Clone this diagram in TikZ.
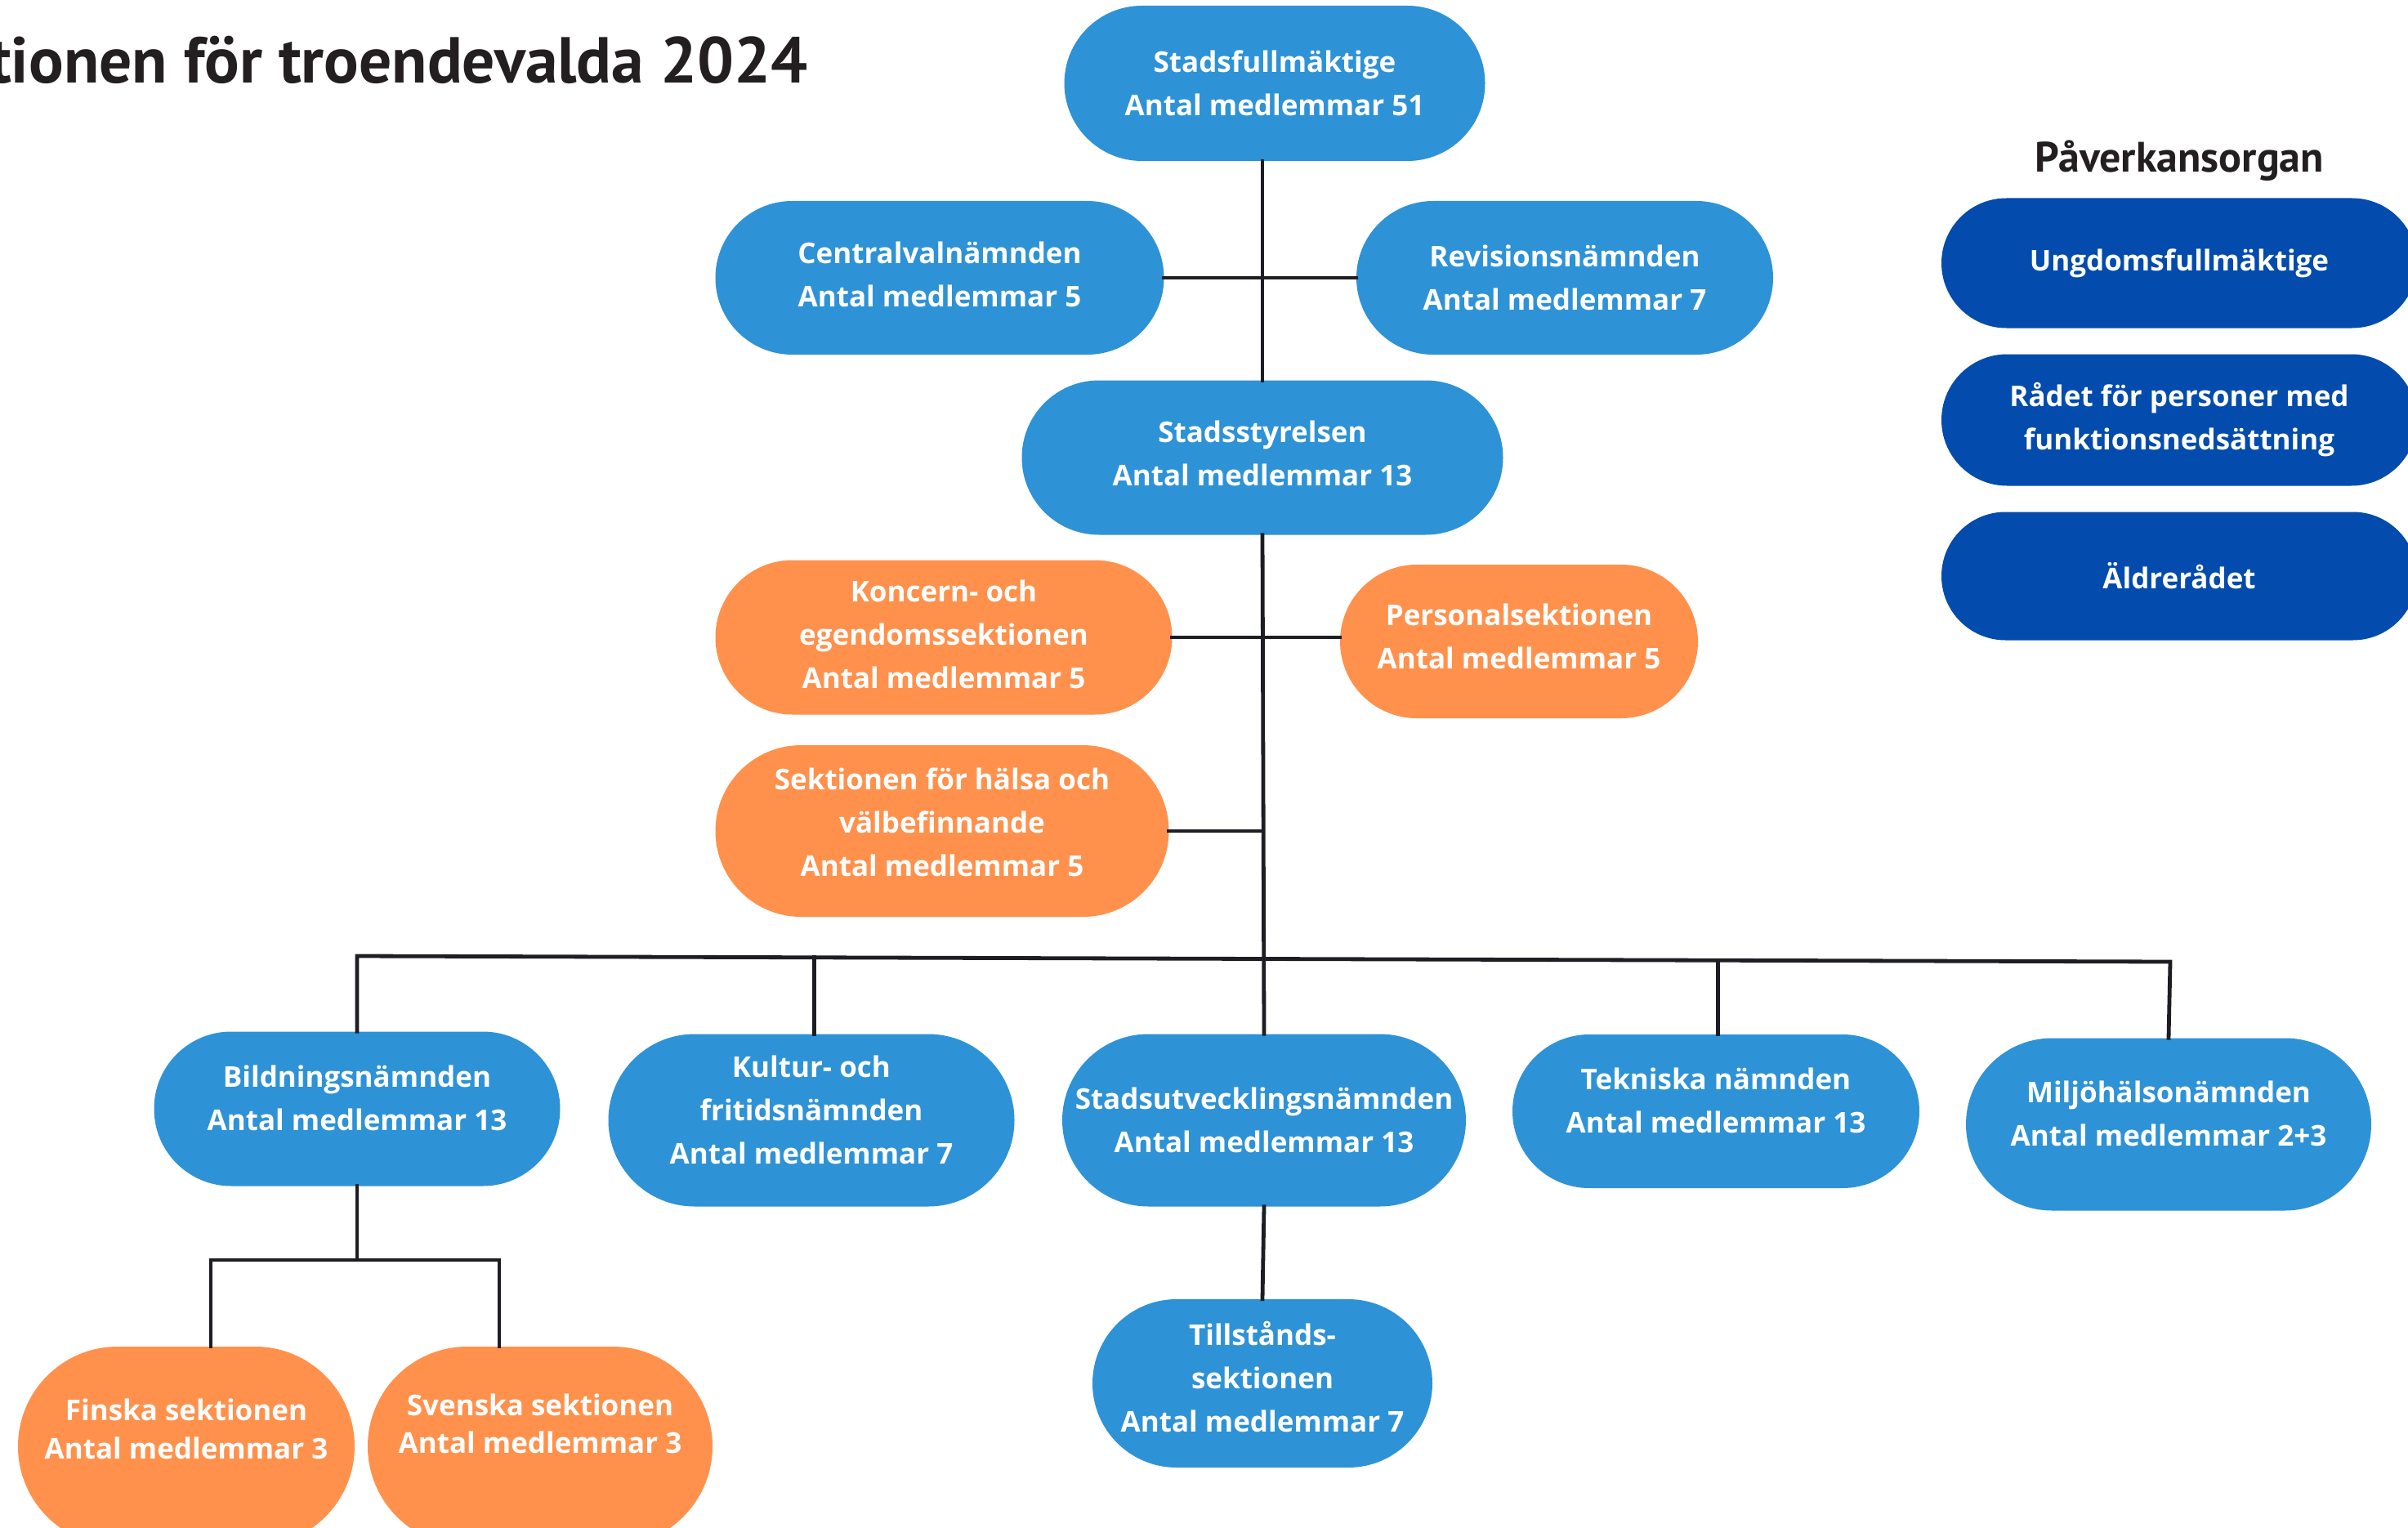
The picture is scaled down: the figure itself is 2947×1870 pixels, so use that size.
\documentclass[tikz,border=0pt]{standalone}
\usepackage{fontspec}
\setmainfont{Open Sans}
\newfontfamily\titlefont{PT Sans}
\usetikzlibrary{shapes.misc,calc}
\definecolor{midblue}{HTML}{2E92D6}
\definecolor{darkblue}{HTML}{034BAC}
\definecolor{orangebox}{HTML}{FF914D}
\definecolor{linecol}{HTML}{1D1D24}
\definecolor{titlecol}{HTML}{231F20}
\tikzset{
  orgbox/.style={rounded rectangle, inner sep=0pt, text=white, align=center,
    font=\bfseries\fontsize{35}{53}\selectfont},
  bluebox/.style={orgbox, fill=midblue},
  darkbox/.style={orgbox, fill=darkblue},
  orangeb/.style={orgbox, fill=orangebox},
  conn/.style={draw=linecol, line width=4.8pt, line cap=rect, line join=miter},
  sz/.style 2 args={minimum width=#1pt, minimum height=#2pt},
  raise/.style={text depth=#1pt},
}
\begin{document}
\begin{tikzpicture}[x=1pt,y=-1pt]
\useasboundingbox (0,0) rectangle (2947,1870);
% title
\node[anchor=base west, inner sep=0pt, text=titlecol, font=\titlefont\bfseries\fontsize{79.5}{82}\selectfont] (title) at (-14,102) {tionen för troendevalda 2024};
\node[anchor=base, inner sep=0pt, text=titlecol, font=\titlefont\bfseries\fontsize{52}{56}\selectfont] (pav) at (2667,211) {Påverkansorgan};
% nodes
\node[bluebox, sz={515}{190}] (sf) at (1560,102) {Stadsfullmäktige\\Antal medlemmar 51};
\node[bluebox, sz={549}{188}, raise=8] (cv) at (1150,340) {Centralvalnämnden\\Antal medlemmar 5};
\node[bluebox, sz={510}{188}] (rv) at (1915,340) {Revisionsnämnden\\Antal medlemmar 7};
\node[bluebox, sz={589}{189}, raise=10] (ss) at (1545,560) {Stadsstyrelsen\\Antal medlemmar 13};
\node[orangeb, sz={559}{189}, raise=8] (ko) at (1155,780) {Koncern- och\\egendomssektionen\\Antal medlemmar 5};
\node[orangeb, sz={438}{188}, raise=12] (ps) at (1859,785) {Personalsektionen\\Antal medlemmar 5};
\node[orangeb, sz={555}{210}, raise=22] (sh) at (1153,1017) {Sektionen för hälsa och\\välbefinnande\\Antal medlemmar 5};
\node[bluebox, sz={497}{189}, raise=26] (bn) at (437,1357) {Bildningsnämnden\\Antal medlemmar 13};
\node[bluebox, sz={497}{211}, raise=26] (kf) at (993,1371) {Kultur- och\\fritidsnämnden\\Antal medlemmar 7};
\node[bluebox, sz={494}{211}] (su) at (1547,1371) {Stadsutvecklingsnämnden\\Antal medlemmar 13};
\node[bluebox, sz={498}{188}, raise=26] (tk) at (2100,1360) {Tekniska nämnden\\Antal medlemmar 13};
\node[bluebox, sz={496}{211}, raise=26] (mh) at (2654,1376) {Miljöhälsonämnden\\Antal medlemmar 2+3};
\node[bluebox, sz={416}{206}, raise=16] (ts) at (1545,1693) {Tillstånds-\\sektionen\\Antal medlemmar 7};
\node[orangeb, sz={412}{244}, raise=42, font=\bfseries\fontsize{35}{47}\selectfont] (fi) at (228,1770) {Finska sektionen\\Antal medlemmar 3};
\node[orangeb, sz={422}{244}, raise=56, font=\bfseries\fontsize{35}{46}\selectfont] (sv) at (661,1770) {Svenska sektionen\\Antal medlemmar 3};
\node[darkbox, sz={582}{159}] (ug) at (2667,322) {Ungdomsfullmäktige};
\node[darkbox, sz={582}{161}] (rp) at (2667,514) {Rådet för personer med\\funktionsnedsättning};
\node[darkbox, sz={582}{157}] (al) at (2667,705) {Äldrerådet};
% coordinates
\coordinate (bL) at (437,1170);
\coordinate (bR) at (2656,1177);
\coordinate (bK) at ($(bL)!0.2522!(bR)$);
\coordinate (bT) at ($(bL)!0.7506!(bR)$);
\coordinate (fj) at (258,1542);
\coordinate (sj) at (611,1542);
% connectors
\draw[conn] (ss.north |- sf.south) -- (ss.north);
\draw[conn] (cv.east) -- (rv.west);
\draw[conn] (ss.south) -- (su.north);
\draw[conn] (ko.east) -- (ko.east -| ps.west);
\draw[conn] (sh.east) -- (sh.east -| ss.south);
\draw[conn] (bn.north) -- (bL) -- (bR) -- (mh.north);
\draw[conn] (kf.north -| bK) -- (bK);
\draw[conn] (tk.north -| bT) -- (bT);
\draw[conn] (su.south) -- (ts.north);
\draw[conn] (bn.south) -- (bn.south |- fj);
\draw[conn] (fj |- fi.north) -- (fj) -- (sj) -- (sj |- sv.north);
\end{tikzpicture}
\end{document}
